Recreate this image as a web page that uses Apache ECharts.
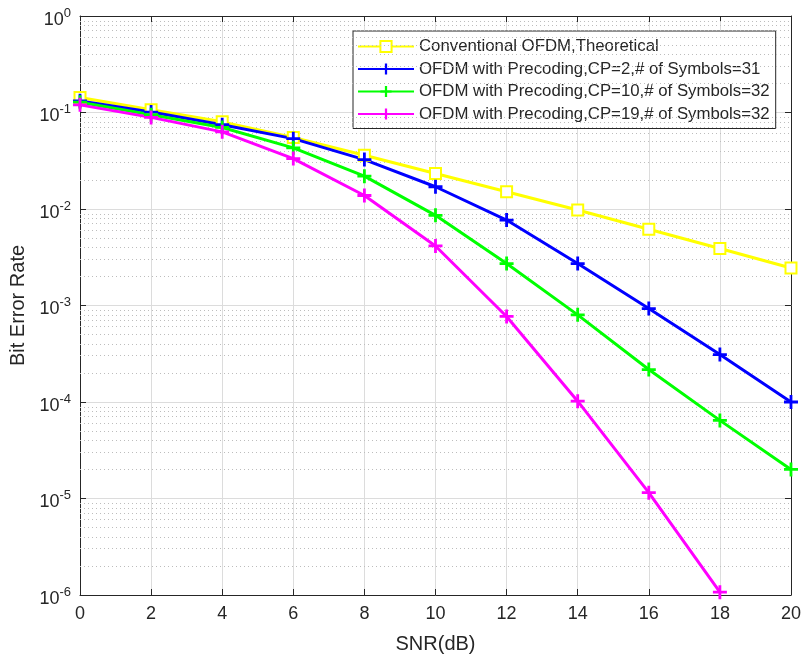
<!DOCTYPE html>
<html>
<head>
<meta charset="utf-8">
<script src="https://cdn.jsdelivr.net/npm/echarts@6/dist/echarts.min.js"></script>
<style>
  html, body { margin: 0; padding: 0; background: #fff; }
  #chart { width: 804px; height: 659px; }
</style>
</head>
<body>
<div id="chart"></div>
<script>
'use strict';
// SNR points (dB)
var snr = [0, 2, 4, 6, 8, 10, 12, 14, 16, 18, 20];

// BER values
var berTheory = [0.143, 0.107, 0.080, 0.055, 0.036, 0.0233, 0.0151, 0.00975, 0.00616, 0.0039, 0.00245];
var berCp2 = [0.132, 0.101, 0.0748, 0.0536, 0.0325, 0.017, 0.00768, 0.00272, 0.00093, 0.00031, 0.0001];
var berCp10 = [0.128, 0.095, 0.070, 0.043, 0.0219, 0.0086, 0.00272, 0.0008, 0.000217, 0.0000645, 0.00002];
var berCp19 = [0.120, 0.089, 0.063, 0.0333, 0.0138, 0.00414, 0.00077, 0.000102, 0.0000115, 0.00000107];

var seriesNames = [
    'Conventional OFDM,Theoretical',
    'OFDM with Precoding,CP=2,# of Symbols=31',
    'OFDM with Precoding,CP=10,# of Symbols=32',
    'OFDM with Precoding,CP=19,# of Symbols=32'
];
var xTicks = [0, 2, 4, 6, 8, 10, 12, 14, 16, 18, 20];
var yDecades = [-6, -5, -4, -3, -2, -1, 0];

var font = 'Liberation Sans, Arial, sans-serif';
var textColor = '#262626';
var plusSymbol = 'path://M4,0h2v4h4v2h-4v4h-2v-4h-4v-2h4z';

function pairs(ys) {
    return ys.map(function (v, i) { return [snr[i], v]; });
}

// dotted minor grid lines (2..9 of every decade), placed on a hidden
// linear axis that runs in log10 units
var minorLines = [];
yDecades.slice(0, -1).forEach(function (e) {
    for (var m = 2; m <= 9; m++) {
        minorLines.push({ yAxis: e + Math.log10(m) });
    }
});

function makeSeries(name, ys, color, symbol, size, border) {
    return {
        name: name,
        type: 'line',
        data: pairs(ys),
        symbol: symbol,
        symbolSize: size,
        showAllSymbol: true,
        lineStyle: { color: color, width: 3 },
        itemStyle: { color: color, borderColor: color, borderWidth: border },
        emphasis: { disabled: true },
        z: 5
    };
}

var chart = echarts.init(document.getElementById('chart'));

var series = [
    makeSeries(seriesNames[0], berTheory, '#ffff00', 'emptyRect', 11, 2),
    makeSeries(seriesNames[1], berCp2, '#0000ff', plusSymbol, 14, 0),
    makeSeries(seriesNames[2], berCp10, '#00ff00', plusSymbol, 14, 0),
    makeSeries(seriesNames[3], berCp19, '#ff00ff', plusSymbol, 14, 0),
    {
        name: 'minor-grid',
        type: 'line',
        yAxisIndex: 2,
        data: [[xTicks[0], yDecades[0]], [xTicks[0], yDecades[6]]],
        symbol: 'none',
        silent: true,
        lineStyle: { opacity: 0 },
        z: 1,
        markLine: {
            silent: true,
            symbol: 'none',
            label: { show: false },
            lineStyle: { color: '#bdbdbd', type: [1, 3], width: 1 },
            data: minorLines
        }
    }
];

var option = {
    backgroundColor: '#ffffff',
    animation: false,
    textStyle: { fontFamily: font },
    grid: { left: 80, right: 13, top: 16, bottom: 62 },
    legend: {
        data: seriesNames,
        orient: 'vertical',
        left: 353,
        top: 31,
        backgroundColor: '#ffffff',
        borderColor: textColor,
        borderWidth: 1,
        borderRadius: 0,
        padding: [7, 6, 6, 4],
        itemWidth: 56,
        itemHeight: 14,
        itemGap: 5.5,
        textStyle: { fontSize: 16.8, color: textColor, fontFamily: font }
    },
    xAxis: [{
        type: 'value',
        min: 0,
        max: 20,
        interval: 2,
        name: 'SNR(dB)',
        nameLocation: 'middle',
        nameGap: 39,
        nameTextStyle: { fontSize: 20, color: textColor },
        axisLine: { onZero: false, lineStyle: { color: textColor, width: 1 } },
        axisTick: { inside: true, length: 6, lineStyle: { color: textColor } },
        axisLabel: { fontSize: 18, color: textColor, margin: 10 },
        splitLine: { show: true, lineStyle: { color: '#dcdcdc', width: 1 } }
    }, {
        type: 'value',
        position: 'top',
        min: 0,
        max: 20,
        interval: 2,
        axisLine: { show: true, onZero: false, lineStyle: { color: textColor, width: 1 } },
        axisTick: { show: true, inside: true, length: 6, lineStyle: { color: textColor } },
        axisLabel: { show: false },
        splitLine: { show: false }
    }],
    yAxis: [{
        type: 'log',
        logBase: 10,
        min: 1e-6,
        max: 1,
        splitNumber: 6,
        name: 'Bit Error Rate',
        nameLocation: 'middle',
        nameGap: 52,
        nameTextStyle: { fontSize: 20, color: textColor },
        axisLine: { show: true, onZero: false, lineStyle: { color: textColor, width: 1 } },
        axisTick: { show: true, inside: true, length: 6, lineStyle: { color: textColor } },
        axisLabel: {
            margin: 9,
            formatter: function (v) {
                var e = Math.round(Math.log10(v));
                return '{b|10}{s|' + e + '}';
            },
            rich: {
                b: { fontSize: 18, color: textColor, fontFamily: font, padding: [8, 0, 0, 0] },
                s: { fontSize: 13, color: textColor, fontFamily: font, padding: [0, 0, 6, 0] }
            }
        },
        splitLine: { show: true, lineStyle: { color: '#dcdcdc', width: 1 } }
    }, {
        type: 'log',
        logBase: 10,
        min: 1e-6,
        max: 1,
        splitNumber: 6,
        position: 'right',
        axisLine: { show: true, onZero: false, lineStyle: { color: textColor, width: 1 } },
        axisTick: { show: true, inside: true, length: 6, lineStyle: { color: textColor } },
        axisLabel: { show: false },
        splitLine: { show: false }
    }, {
        type: 'value',
        min: yDecades[0],
        max: yDecades[6],
        show: false
    }],
    series: series
};

chart.setOption(option);
window.addEventListener('resize', function () {
    chart.resize();
});
</script>
</body>
</html>
